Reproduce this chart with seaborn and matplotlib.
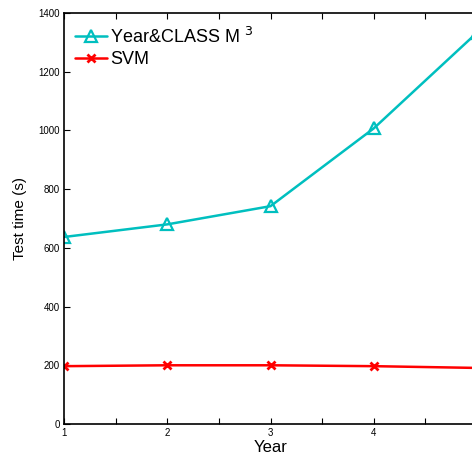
import matplotlib
matplotlib.use("Agg")
import matplotlib.pyplot as plt
import seaborn as sns
from matplotlib.ticker import MultipleLocator

years = [1, 2, 3, 4, 5]
year_class = [637, 680, 742, 1007, 1333]
svm = [197, 200, 200, 197, 191]

sns.set_theme(style="ticks")
plt.rcParams['font.family'] = ['Liberation Sans', 'DejaVu Sans']
plt.rcParams['text.color'] = 'black'
plt.rcParams['axes.labelcolor'] = 'black'

fig = plt.figure(figsize=(4.72, 4.59), dpi=100)
ax = fig.add_axes([64/472, 1 - 424/459, (477 - 64)/472, (424 - 13)/459])

sns.lineplot(x=years, y=year_class, color="#00BFBF", marker="^", markersize=9,
             markerfacecolor="none", markeredgecolor="#00BFBF", markeredgewidth=1.6,
             linewidth=1.8, label="Year&CLASS M $^{3}$", ax=ax)
sns.lineplot(x=years, y=svm, color="#FF0000", marker="x", markersize=6,
             markeredgecolor="#FF0000", markeredgewidth=2.0, linewidth=1.8,
             label="SVM", ax=ax)

ax.set_xlim(1, 5)
ax.set_ylim(0, 1400)
ax.xaxis.set_major_locator(MultipleLocator(1))
ax.xaxis.set_minor_locator(MultipleLocator(0.5))
ax.yaxis.set_major_locator(MultipleLocator(200))
ax.tick_params(axis="both", which="both", direction="in", top=True, right=False,
               labelsize=7, length=4, width=0.8, colors="black", pad=3)
for s in ["left", "bottom", "top"]:
    ax.spines[s].set_color("black")
    ax.spines[s].set_linewidth(1.2)
ax.spines["right"].set_visible(False)
ax.set_xlabel("Year", fontsize=12, labelpad=1)
ax.set_ylabel("Test time (s)", fontsize=11, labelpad=8)

fig.canvas.draw()
for lbl in ax.get_xticklabels():
    if lbl.get_text() == "5":
        lbl.set_visible(False)

leg = ax.legend(loc="upper left", frameon=False, fontsize=13, handlelength=1.8,
                handletextpad=0.15, borderaxespad=0.2, labelspacing=0.25,
                bbox_to_anchor=(0.0, 0.993))

fig.savefig("out.png", dpi=100)
